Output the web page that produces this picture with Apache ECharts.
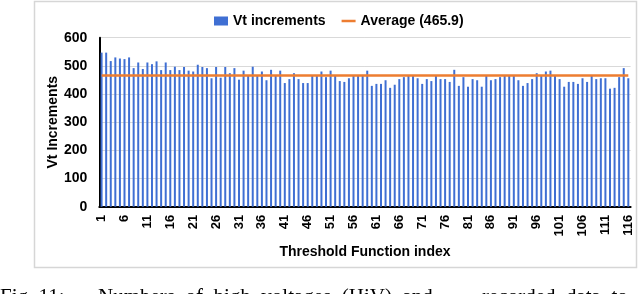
<!DOCTYPE html>
<html><head><meta charset="utf-8">
<script src="https://cdn.jsdelivr.net/npm/echarts@6/dist/echarts.min.js"></script>
<style>html,body{margin:0;padding:0;background:#fff}#c{width:640px;height:294px}</style>
</head><body><div id="c"></div>
<script>
const categories = Array.from({length: 116}, (_, i) => String(i + 1));
const vtIncrements = [
  547,547,517,530,526,524,530,492,512,489,
  512,506,516,485,512,485,497,485,496,483,
  480,504,496,492,456,496,458,496,474,492,
  451,483,465,497,465,480,449,486,465,483,
  439,453,474,453,439,439,465,465,480,460,
  483,465,446,443,456,465,465,468,483,429,
  436,436,449,422,433,453,460,465,465,456,
  436,453,446,465,453,453,443,486,429,460,
  426,453,449,426,465,449,453,460,465,465,
  465,449,429,439,453,474,465,480,483,465,
  453,426,443,443,436,456,443,465,453,456,
  456,419,422,460,492,456
];
const averageValue = 465.9;
const averageData = categories.map(() => averageValue);
const barName = 'Vt increments';
const lineName = 'Average (465.9)';

const FONT = 'Liberation Sans, Arial, sans-serif';
const SERIF = '"Liberation Serif", serif';
const chart = echarts.init(document.getElementById('c'), null, {renderer: 'canvas'});
chart.setOption({
  animation: false,
  backgroundColor: '#fff',
  legend: {
    left: 209, top: 9,
    itemWidth: 14, itemHeight: 9, itemGap: 16,
    symbolKeepAspect: true,
    textStyle: {fontFamily: FONT, fontWeight: 'bold', fontSize: 14, color: '#000'},
    data: [
      {name: barName, icon: 'rect'},
      {name: lineName, icon: 'path://M0,0L14,0L14,2.5L0,2.5Z', itemStyle: {color: '#ED7D31'}}
    ]
  },
  grid: {left: 99.3, right: 9.4, top: 37.7, bottom: 87.3, containLabel: false},
  xAxis: {
    type: 'category', data: categories, boundaryGap: true,
    axisLine: {lineStyle: {color: '#000', width: 2}},
    axisTick: {show: false},
    axisLabel: {interval: 4, rotate: 90, margin: 8, fontFamily: FONT, fontWeight: 'bold', fontSize: 13, color: '#000'},
    name: 'Threshold Function index', nameLocation: 'middle', nameGap: 38,
    nameTextStyle: {fontFamily: FONT, fontWeight: 'bold', fontSize: 14, color: '#000'}
  },
  yAxis: {
    type: 'value', min: 0, max: 600, interval: 100,
    axisLine: {show: true, lineStyle: {color: '#000', width: 2}},
    axisTick: {show: false},
    splitLine: {lineStyle: {color: '#d9d9d9', width: 1}},
    axisLabel: {margin: 12, fontFamily: FONT, fontWeight: 'bold', fontSize: 14, color: '#000'},
    name: 'Vt Increments', nameLocation: 'middle', nameGap: 39, nameMoveOverlap: false,
    nameTextStyle: {fontFamily: FONT, fontWeight: 'bold', fontSize: 14, color: '#000'}
  },
  series: [
    {name: barName, type: 'bar', data: vtIncrements, barWidth: 2,
     itemStyle: {color: '#3f6fd3'}},
    {name: lineName, type: 'line', data: averageData, symbol: 'none', showSymbol: false, z: 5,
     lineStyle: {color: '#ED7D31', width: 2.5}, itemStyle: {color: '#ED7D31'}}
  ],
  graphic: [
    {type: 'rect', shape: {x: 34.5, y: 1.5, width: 602, height: 266}, silent: true, z: -1,
     style: {fill: 'none', stroke: '#d6d6d6', lineWidth: 1.5}},
    {type: 'text', x: 0, y: 287, silent: true,
     style: {text: 'Fig. 11:', fontSize: 21, fontFamily: SERIF, fill: '#000', verticalAlign: 'top'}},
    {type: 'text', x: 98, y: 287, silent: true,
     style: {text: 'Numbers  of  high  voltages  (HiV)  and', fontSize: 21, fontFamily: SERIF, fill: '#000', verticalAlign: 'top'}},
    {type: 'text', x: 482, y: 287, silent: true,
     style: {text: 'recorded  data  to', fontSize: 21, fontFamily: SERIF, fill: '#000', verticalAlign: 'top'}}
  ]
});
</script>
</body></html>
